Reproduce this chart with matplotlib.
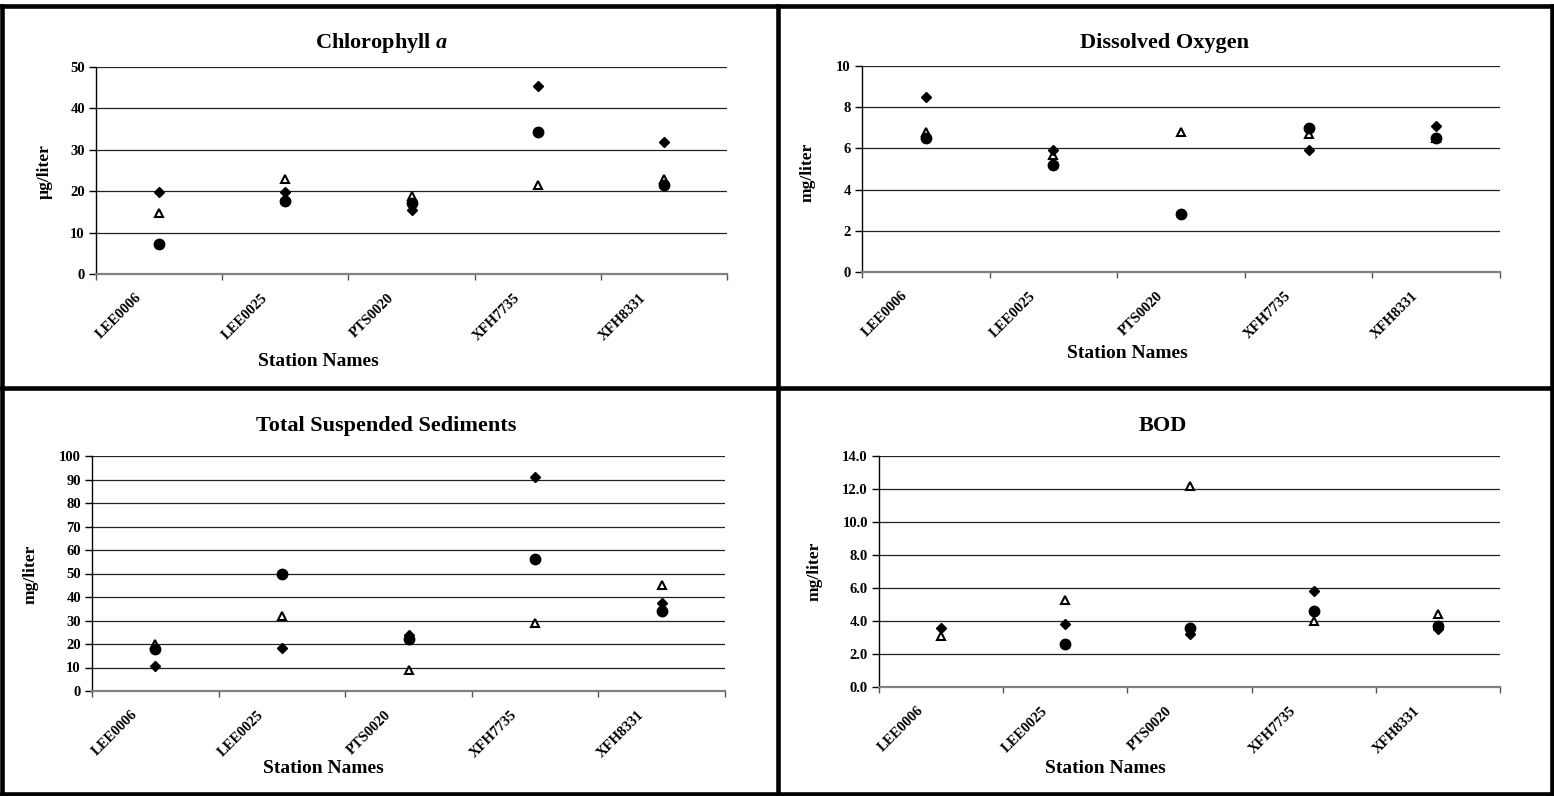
import numpy as np
import matplotlib
matplotlib.use("Agg")
import matplotlib.pyplot as plt
from matplotlib.lines import Line2D
from matplotlib.transforms import ScaledTranslation

plt.rcParams["font.family"] = ["Liberation Serif", "DejaVu Serif"]
plt.rcParams["font.weight"] = "bold"
plt.rcParams["mathtext.fontset"] = "custom"
plt.rcParams["mathtext.it"] = "Liberation Serif:bold:italic"
plt.rcParams["mathtext.rm"] = "Liberation Serif:bold"

nan = np.nan
stations = ["LEE0006", "LEE0025", "PTS0020", "XFH7735", "XFH8331"]

chl_diamond = [19.8, 19.9, 15.4, 45.4, 31.9]
chl_triangle = [14.7, 22.9, 18.9, 21.4, 22.9]
chl_circle = [7.2, 17.7, 17.2, 34.2, 21.4]

do_diamond = [8.5, 5.9, nan, 5.9, 7.1]
do_triangle = [6.8, 5.7, 6.8, 6.7, 6.5]
do_circle = [6.5, 5.2, 2.8, 7.0, 6.5]

tss_diamond = [10.6, 18.2, 23.7, 91.0, 37.3]
tss_triangle = [20.1, 31.9, 9.1, 28.9, 45.0]
tss_circle = [17.7, 50.0, 22.1, 56.2, 34.0]

bod_diamond = [3.6, 3.8, 3.2, 5.8, 3.5]
bod_triangle = [3.1, 5.3, 12.2, 4.0, 4.4]
bod_circle = [nan, 2.6, 3.6, 4.6, 3.7]

titles = [r"Chlorophyll $\mathit{a}$", "Dissolved Oxygen", "Total Suspended Sediments", "BOD"]
ylabels = ["\u00b5g/liter", "mg/liter", "mg/liter", "mg/liter"]
xlabel = "Station Names"
ymaxes = [50, 10, 100, 14]
ysteps = [10, 2, 10, 2]
yfmts = ["{:.0f}", "{:.0f}", "{:.0f}", "{:.1f}"]

W, H = 1554, 796
fig = plt.figure(figsize=(W / 100, H / 100), dpi=100)

def fx(px):
    return px / W

def fy(py):
    return 1 - py / H

# layout in pixels: axes box (left, top, right, bottom), title (x, baseline), xlabel (x, baseline), ylabel (x, y)
layout = [
    dict(box=(96, 67, 727, 274), title=(382, 48), xl=(318, 366), yl=(45, 172)),
    dict(box=(862, 66, 1500, 272), title=(1164, 48), xl=(1127, 358), yl=(808, 172)),
    dict(box=(92, 456, 725, 691), title=(386, 431), xl=(323, 773), yl=(31, 574)),
    dict(box=(879, 456, 1500, 687), title=(1163, 431), xl=(1105, 773), yl=(815, 571)),
]

series_sets = [
    (chl_diamond, chl_triangle, chl_circle),
    (do_diamond, do_triangle, do_circle),
    (tss_diamond, tss_triangle, tss_circle),
    (bod_diamond, bod_triangle, bod_circle),
]

x = np.arange(len(stations))
for i, lay in enumerate(layout):
    l, t, r, b = lay["box"]
    ax = fig.add_axes([fx(l), fy(b), fx(r - l), (b - t) / H])
    dia, tri, cir = series_sets[i]
    ax.plot(x, tri, linestyle="none", marker="^", markersize=6, markerfacecolor="white",
            markeredgecolor="black", markeredgewidth=1.5, zorder=3, clip_on=False)
    ax.plot(x, dia, linestyle="none", marker="D", markersize=5.2, color="black", zorder=4, clip_on=False)
    ax.plot(x, cir, linestyle="none", marker="o", markersize=7.5, color="black", zorder=5, clip_on=False)

    ax.set_xlim(-0.5, len(stations) - 0.5)
    ax.set_ylim(0, ymaxes[i])
    yt = np.arange(0, ymaxes[i] + ysteps[i] / 2, ysteps[i])
    ax.set_yticks(yt, [yfmts[i].format(v) for v in yt])
    ax.set_xticks(np.arange(-0.5, len(stations), 1.0), [""] * (len(stations) + 1))
    ax.set_xticks(x, stations, minor=True)
    ax.tick_params(axis="x", which="major", length=4, width=1, color="#555555", direction="out")
    ax.tick_params(axis="x", which="minor", length=0, labelsize=10.5)
    ax.tick_params(axis="y", length=5, width=1, color="black", direction="out", labelsize=10.5, pad=3)
    off = ScaledTranslation(-0.2, -0.17, fig.dpi_scale_trans)
    for lab in ax.get_xticklabels(minor=True):
        lab.set_rotation(45)
        lab.set_ha("right")
        lab.set_va("center")
        lab.set_rotation_mode("anchor")
        lab.set_transform(lab.get_transform() + off)
        lab.set_fontweight("bold")
    for lab in ax.get_yticklabels():
        lab.set_fontweight("bold")
    ax.yaxis.grid(True, color="#222222", linewidth=0.9)
    ax.set_axisbelow(True)
    ax.spines["top"].set_visible(False)
    ax.spines["right"].set_visible(False)
    ax.spines["left"].set_color("black")
    ax.spines["left"].set_linewidth(1)
    ax.spines["bottom"].set_color("#808080")
    ax.spines["bottom"].set_linewidth(1.6)

    tx, ty = lay["title"]
    fig.text(fx(tx), fy(ty), titles[i], ha="center", va="baseline", fontsize=16, fontweight="bold")
    lx, ly = lay["xl"]
    fig.text(fx(lx), fy(ly), xlabel, ha="center", va="baseline", fontsize=14, fontweight="bold")
    yx, yy = lay["yl"]
    fig.text(fx(yx), fy(yy), ylabels[i], ha="center", va="center", rotation=90, fontsize=12.5, fontweight="bold")

# panel frame
frame_lw = 3.3
frame = [
    ((2, 1552), (5.5, 5.5)),
    ((2, 1552), (794, 794)),
    ((2, 2), (5.5, 794)),
    ((1552, 1552), (5.5, 794)),
    ((777.5, 777.5), (5.5, 794)),
    ((2, 1552), (388, 388)),
]
for xs, ys in frame:
    fig.add_artist(Line2D([fx(xs[0]), fx(xs[1])], [fy(ys[0]), fy(ys[1])],
                          transform=fig.transFigure, color="black", linewidth=frame_lw,
                          solid_capstyle="projecting"))

fig.savefig("out.png", dpi=100)
